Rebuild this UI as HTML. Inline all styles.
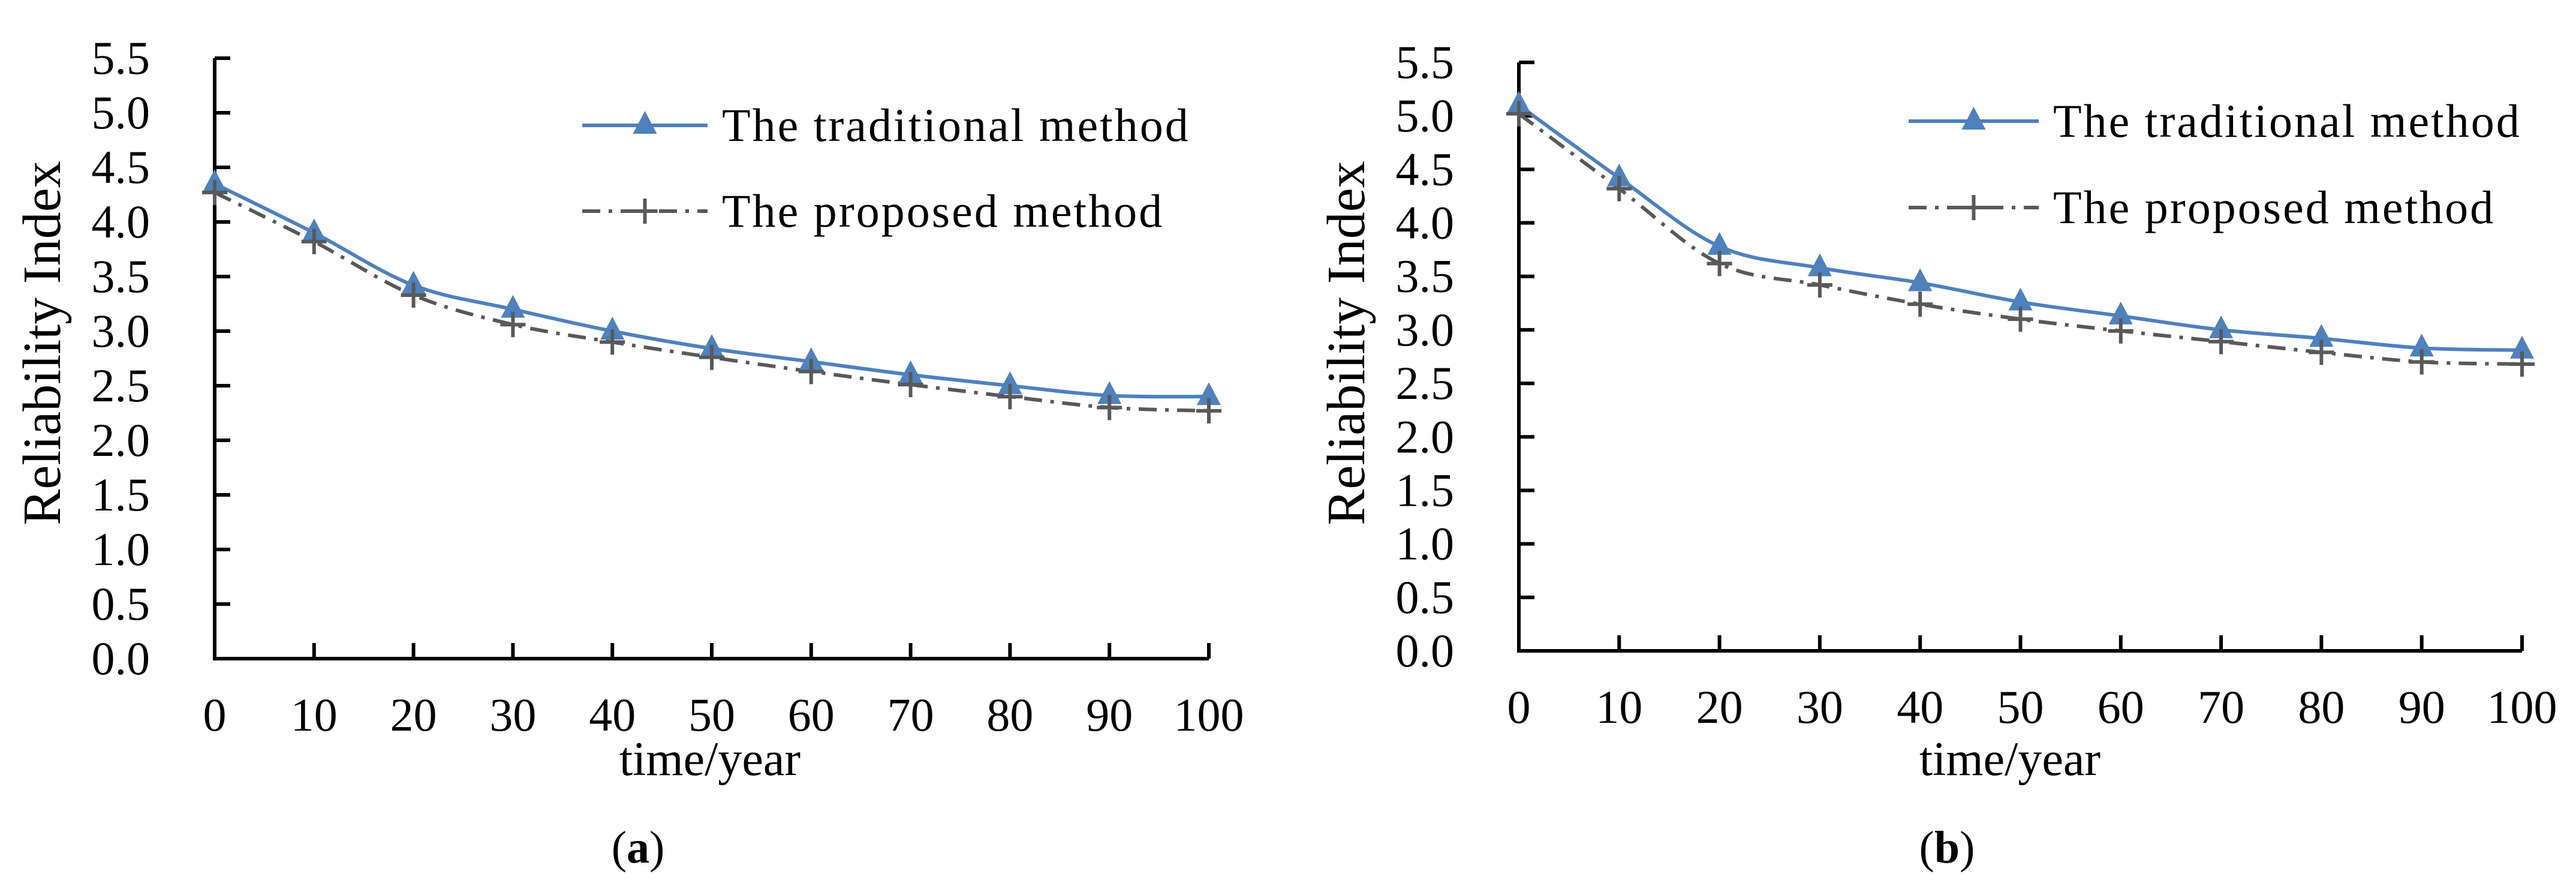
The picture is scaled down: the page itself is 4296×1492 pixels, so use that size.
<!DOCTYPE html>
<html><head><meta charset="utf-8"><style>
html,body{margin:0;padding:0;background:#fff;}
svg{display:block;font-family:"Liberation Serif",serif;}
</style></head><body>
<svg id="fig" width="4296" height="1492" viewBox="0 0 4296 1492" xmlns="http://www.w3.org/2000/svg"></svg>
<script>
const xCats = [0,10,20,30,40,50,60,70,80,90,100];
const yTicks = [0,0.5,1,1.5,2,2.5,3,3.5,4,4.5,5,5.5];
const yTickLabels = ["0.0","0.5","1.0","1.5","2.0","2.5","3.0","3.5","4.0","4.5","5.0","5.5"];
const tradA = [4.35,3.9,3.42,3.2,3.0,2.84,2.72,2.6,2.5,2.41,2.4];
const propA = [4.27,3.82,3.33,3.06,2.9,2.76,2.63,2.51,2.4,2.3,2.27];
const tradB = [5.1,4.42,3.78,3.58,3.44,3.26,3.13,3.0,2.92,2.83,2.81];
const propB = [5.02,4.32,3.62,3.42,3.24,3.1,2.99,2.89,2.79,2.7,2.68];
const legendLabels = ["The traditional method","The proposed method"];

const NS="http://www.w3.org/2000/svg";
const svg=document.getElementById('fig');
function mk(tag,attrs,parent){const e=document.createElementNS(NS,tag);for(const k in attrs)e.setAttribute(k,attrs[k]);(parent||svg).appendChild(e);return e;}
function smooth(pts){let d=`M${pts[0][0]},${pts[0][1]}`;for(let i=0;i<pts.length-1;i++){const p0=pts[i-1]||pts[i],p1=pts[i],p2=pts[i+1],p3=pts[i+2]||p2;const t=1/6;d+=` C${p1[0]+(p2[0]-p0[0])*t},${p1[1]+(p2[1]-p0[1])*t} ${p2[0]-(p3[0]-p1[0])*t},${p2[1]-(p3[1]-p1[1])*t} ${p2[0]},${p2[1]}`;}return d;}
function tri(g,x,y){const p=mk('polygon',{points:`${x},${y-24} ${x-20},${y+14} ${x+20},${y+14}`,fill:'#4f81bd'},g);}
function cross(g,x,y){const p=mk('path',{d:`M${x-21},${y}H${x+21}M${x},${y-21}V${y+21}`,stroke:'#595959','stroke-width':6,fill:'none'},g);}

function chart(c,trad,prop,tag){
  const g=mk('g',{});
  
  
  const xs=v=>c.x0+(v-0)/(100-0)*(c.x1-c.x0);
  const ys=v=>c.y0-(v/5.5)*(c.y0-c.y1);
  const ax=mk('path',{d:`M${c.x0},${c.y1}V${c.y0}H${c.x1}`,stroke:'#000','stroke-width':6,fill:'none'},g);
  
  yTicks.forEach((v,i)=>{
    const y=ys(v);
    mk('line',{x1:c.x0,x2:c.x0+26,y1:y,y2:y,stroke:'#000','stroke-width':6},g);
    const t=mk('text',{x:c.lx,y:y+26,'text-anchor':'end','font-size':78},g);
    t.textContent=yTickLabels[i];
    
  });
  xCats.forEach(v=>{
    const x=xs(v);
    if(v>0) mk('line',{x1:x,x2:x,y1:c.y0,y2:c.y0-26,stroke:'#000','stroke-width':6},g);
    const t=mk('text',{x:x,y:c.y0+120,'text-anchor':'middle','font-size':78},g);
    t.textContent=v;
    
  });
  const yt=mk('text',{x:0,y:0,'text-anchor':'middle','font-size':90,transform:`translate(${c.tx},572) rotate(-90)`},g);
  yt.textContent='Reliability Index';
  
  const xt=mk('text',{x:c.xtx,y:1292,'text-anchor':'middle','font-size':80},g);
  xt.textContent='time/year';
  
  const cap=mk('text',{x:c.capx,y:1438,'text-anchor':'middle','font-size':76},g);
  cap.innerHTML='(<tspan font-weight="bold">'+tag+'</tspan>)';
  
  const pp=prop.map((v,i)=>[xs(xCats[i]),ys(v)]);
  const tp=trad.map((v,i)=>[xs(xCats[i]),ys(v)]);
  const l2=mk('path',{d:smooth(pp),stroke:'#595959','stroke-width':6,fill:'none','stroke-dasharray':'30 14 6 14'},g);
  
  const l1=mk('path',{d:smooth(tp),stroke:'#4f81bd','stroke-width':6,fill:'none'},g);
  
  tp.forEach(p=>tri(g,p[0],p[1]));
  pp.forEach(p=>cross(g,p[0],p[1]));
  const lg=mk('g',{},g);
  
  mk('line',{x1:c.lg0,x2:c.lg1,y1:c.ly1,y2:c.ly1,stroke:'#4f81bd','stroke-width':6},lg);
  tri(lg,(c.lg0+c.lg1)/2,c.ly1);
  const t1=mk('text',{x:c.lg1+24,y:c.ly1+26,'font-size':78,'letter-spacing':3},lg);t1.textContent=legendLabels[0];
  
  mk('line',{x1:c.lg0,x2:c.lg1,y1:c.ly2,y2:c.ly2,stroke:'#595959','stroke-width':6,'stroke-dasharray':'30 14 6 14'},lg);
  cross(lg,(c.lg0+c.lg1)/2,c.ly2);
  const t2=mk('text',{x:c.lg1+24,y:c.ly2+26,'font-size':78,'letter-spacing':3},lg);t2.textContent=legendLabels[1];
  
}
chart({x0:358,x1:2016,y0:1098,y1:97,lx:250,tx:100,xtx:1184,capx:1064,lg0:971,lg1:1180,ly1:209,ly2:352},tradA,propA,'a');
chart({x0:2533,x1:4206,y0:1085,y1:104,lx:2425,tx:2275,xtx:3352,capx:3247,lg0:3183,lg1:3400,ly1:202,ly2:346},tradB,propB,'b');
</script>
</body></html>
